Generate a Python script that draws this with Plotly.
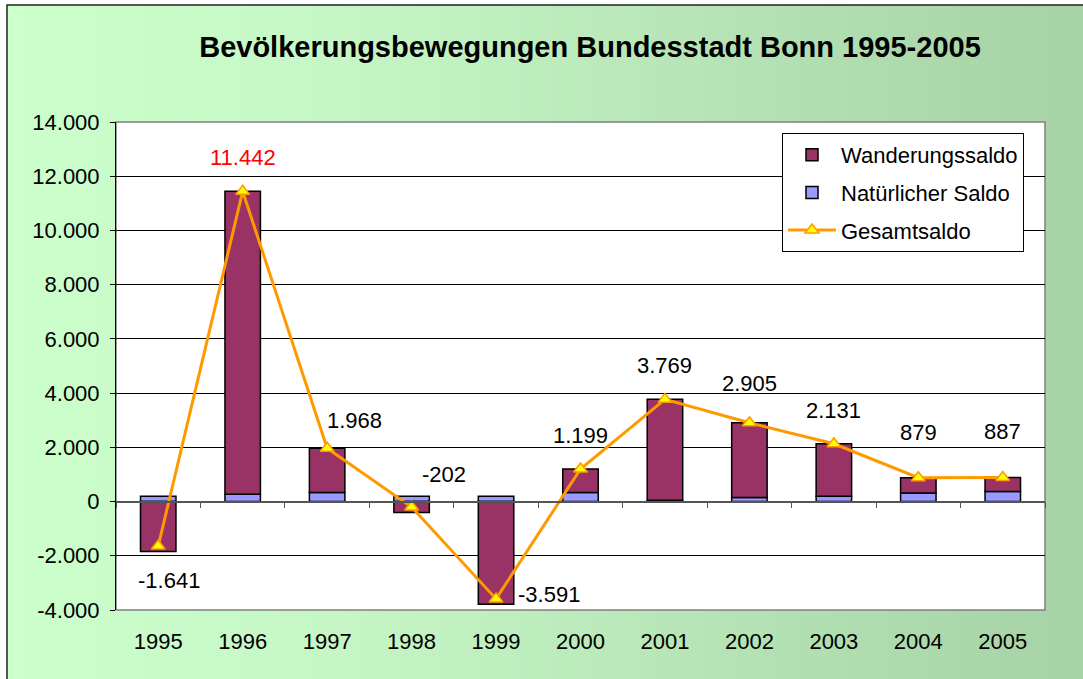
import plotly.graph_objects as go

# --- data -------------------------------------------------------------
years = ["1995", "1996", "1997", "1998", "1999", "2000",
         "2001", "2002", "2003", "2004", "2005"]
wanderungssaldo = [-1841, 11172, 1638, -402, -3791, 869, 3719, 2755, 1931, 559, 517]
natuerlicher_saldo = [200, 270, 330, 200, 200, 330, 50, 150, 200, 320, 370]
gesamtsaldo = [-1641, 11442, 1968, -202, -3591, 1199, 3769, 2905, 2131, 879, 887]
y_ticks = [-4000, -2000, 0, 2000, 4000, 6000, 8000, 10000, 12000, 14000]

# label placement (pixel shifts from each point) and colour
label_shift = [(11, -34), (0, 34), (27, 28), (32, 33), (53, 4), (0, 34),
               (0, 34), (0, 39), (0, 33), (0, 45), (0, 46)]
label_color = ["black", "red"] + ["black"] * 9

FONT = "Arial, Liberation Sans, sans-serif"
FIG_W, FIG_H = 1083, 679
L, R, T, B = 116, 38, 122, 69
PW, PH = FIG_W - L - R, FIG_H - T - B


def de_num(v):
    s = f"{abs(v):,}".replace(",", ".")
    return ("-" if v < 0 else "") + s


def px_x(px):
    return (px - L) / PW


def px_y(py):
    return (FIG_H - B - py) / PH


fig = go.Figure()

fig.add_trace(go.Bar(
    x=years, y=natuerlicher_saldo, name="Natürlicher Saldo",
    marker=dict(color="#9999FF", line=dict(color="black", width=1.5)),
    legendrank=2, legendgroup="b",
))
fig.add_trace(go.Bar(
    x=years, y=wanderungssaldo, name="Wanderungssaldo",
    marker=dict(color="#993366", line=dict(color="black", width=1.5)),
    legendrank=1, legendgroup="a",
))
fig.add_trace(go.Scatter(
    x=years, y=gesamtsaldo, name="Gesamtsaldo", mode="lines+markers",
    line=dict(color="#FF9900", width=3),
    marker=dict(symbol="triangle-up", size=12, color="#FFFF00",
                line=dict(color="#FF9900", width=1.5)),
    legendrank=3, legendgroup="c",
))
# helper trace carrying the category axis that sits on the zero line
fig.add_trace(go.Scatter(
    x=years, y=[0] * len(years), xaxis="x2", mode="markers",
    marker=dict(opacity=0), showlegend=False, hoverinfo="skip",
))

# value labels (category axis positions are given by index)
for i, (v, (dx, dy), c) in enumerate(zip(gesamtsaldo, label_shift, label_color)):
    fig.add_annotation(x=i, y=v, text=de_num(v), showarrow=False,
                       xshift=dx, yshift=dy,
                       font=dict(family=FONT, size=22, color=c))

# background gradient (light green to darker green, left to right)
shapes = []
n = 120
x0_px, x1_px = 7, FIG_W + 5
stops = [(0.0, (204, 255, 204)), (0.3, (198, 246, 198)), (1.0, (166, 210, 166))]


def grad(t):
    for (a, ca), (b, cb) in zip(stops[:-1], stops[1:]):
        if a <= t <= b:
            f = (t - a) / (b - a)
            return tuple(round(ca[k] + (cb[k] - ca[k]) * f) for k in range(3))
    return stops[-1][1]


for i in range(n):
    a = x0_px + (x1_px - x0_px) * i / n
    b = x0_px + (x1_px - x0_px) * (i + 1) / n + 1
    r, g, bl = grad(i / (n - 1))
    shapes.append(dict(type="rect", xref="paper", yref="paper", layer="below",
                       x0=px_x(a), x1=px_x(b), y0=px_y(FIG_H + 5), y1=px_y(5),
                       line=dict(width=0), fillcolor=f"rgb({r},{g},{bl})"))
# outer frame
shapes.append(dict(type="rect", xref="paper", yref="paper", layer="below",
                   x0=px_x(7), x1=px_x(FIG_W + 10), y0=px_y(FIG_H + 10), y1=px_y(5),
                   line=dict(color="#222222", width=1.5), fillcolor="rgba(0,0,0,0)"))
# plot area
shapes.append(dict(type="rect", xref="paper", yref="paper", layer="below",
                   x0=0, x1=1, y0=0, y1=1,
                   line=dict(color="#808080", width=1.5), fillcolor="white"))

zero_pos = (0 - y_ticks[0]) / (y_ticks[-1] - y_ticks[0])
x_range = [-0.5, len(years) - 0.5]

fig.update_layout(
    width=FIG_W, height=FIG_H,
    margin=dict(l=L, r=R, t=T, b=B),
    paper_bgcolor="white", plot_bgcolor="rgba(0,0,0,0)",
    barmode="relative", bargap=0.58,
    shapes=shapes,
    title=dict(text="<b>Bevölkerungsbewegungen Bundesstadt Bonn 1995-2005</b>",
               x=590 / FIG_W, xanchor="center", xref="container",
               y=1 - 47 / FIG_H, yanchor="middle", yref="container",
               font=dict(family=FONT, size=29, color="black")),
    font=dict(family=FONT, size=22, color="black"),
    legend=dict(x=px_x(782), y=px_y(133), xanchor="left", yanchor="top",
                bgcolor="white", bordercolor="black", borderwidth=1,
                font=dict(family=FONT, size=22, color="black"),
                tracegroupgap=6, itemwidth=48, traceorder="grouped"),
    xaxis=dict(type="category", categoryorder="array", categoryarray=years,
               range=x_range, showgrid=False, showline=False, ticks="",
               ticklabelstandoff=16, tickfont=dict(size=22)),
    xaxis2=dict(type="category", categoryorder="array", categoryarray=years,
                range=x_range, overlaying="x", anchor="free",
                position=zero_pos, showgrid=False, showline=True,
                linecolor="#555555", linewidth=1.5, ticks="outside",
                tickson="boundaries", ticklen=6, tickcolor="#555555",
                showticklabels=False, zeroline=False),
    yaxis=dict(range=[y_ticks[0], y_ticks[-1]], tickvals=y_ticks,
               ticktext=[de_num(v) for v in y_ticks],
               showgrid=True, gridcolor="black", gridwidth=1,
               zeroline=False, showline=True, linecolor="black", linewidth=1,
               ticks="outside", ticklen=5, tickcolor="black",
               ticklabelstandoff=6, tickfont=dict(size=22)),
    hovermode=False,
)

fig.write_html("out.html")
